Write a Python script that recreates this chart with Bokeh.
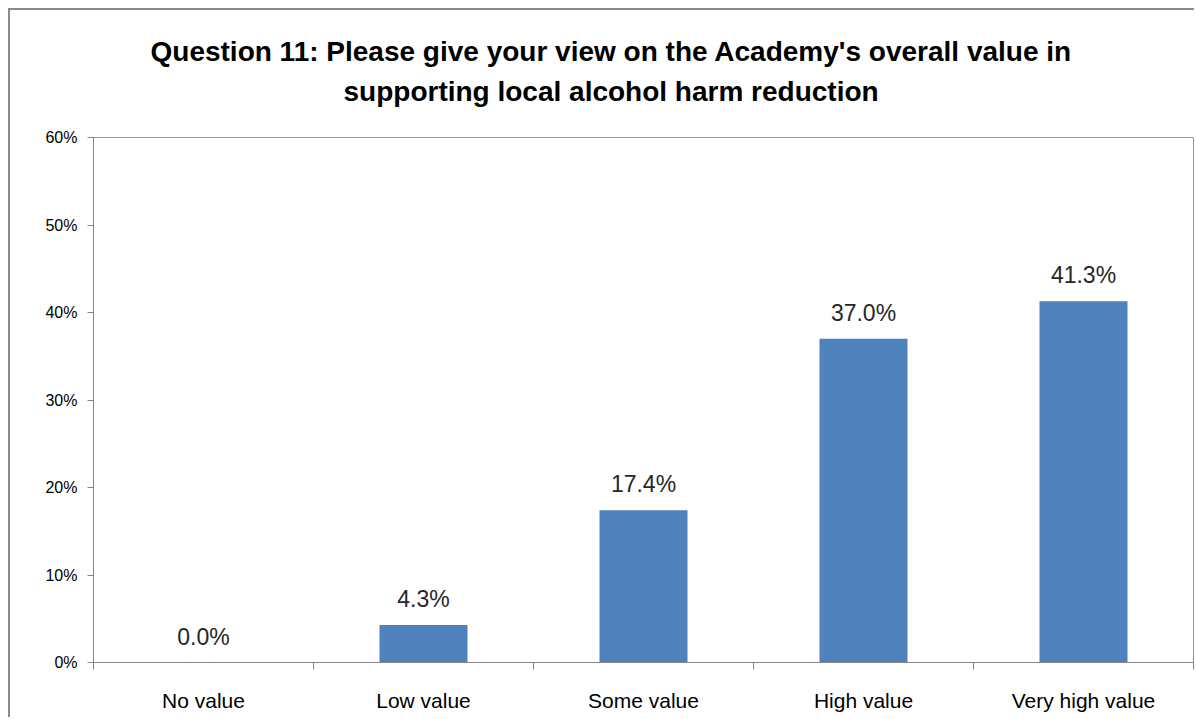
import numpy as np
from bokeh.plotting import figure
from bokeh.models import (ColumnDataSource, FixedTicker, PrintfTickFormatter,
                          Range1d, Title, LabelSet)
from bokeh.core.properties import value
from bokeh.embed import file_html
from bokeh.resources import INLINE

# ---- data ----
categories = ["No value", "Low value", "Some value", "High value", "Very high value"]
values = [0.0, 4.3, 17.4, 37.0, 41.3]
y_ticks = [0, 10, 20, 30, 40, 50, 60]
title_lines = ["Question 11: Please give your view on the Academy's overall value in",
               "supporting local alcohol harm reduction"]

xpos = [i + 0.5 for i in range(len(categories))]
labels = ["%.1f%%" % v for v in values]
src = ColumnDataSource(dict(x=xpos, top=values, label=labels))

FONT = "Liberation Sans"

p = figure(width=1186, height=709, output_backend="svg", toolbar_location=None,
           x_range=Range1d(0, len(categories)), y_range=Range1d(0, 60),
           min_border_left=83, min_border_right=3, min_border_bottom=57,
           min_border_top=127, title=None,
           styles={"margin-left": "8px", "margin-top": "8px",
                   "border-left": "2px solid #8a8a8a", "border-top": "2px solid #8a8a8a"})

p.vbar(x="x", top="top", width=0.4, source=src, color="#4F81BD", line_color=None)

p.add_layout(LabelSet(x="x", y="top", text="label", source=src,
                      text_align="center", text_baseline="alphabetic", y_offset=18,
                      text_font=value(FONT), text_font_size="23px", text_color="#262626"))

# titles (second line added first -> closest to plot)
t2 = Title(text=title_lines[1], align="left", text_font=FONT, text_font_size="28px",
           text_font_style="bold", text_color="#000000", standoff=62, offset=250)
t1 = Title(text=title_lines[0], align="left", text_font=FONT, text_font_size="28px",
           text_font_style="bold", text_color="#000000", standoff=-48, offset=57)
p.add_layout(t2, "above")
p.add_layout(t1, "above")

p.xgrid.visible = False
p.ygrid.visible = False

p.outline_line_color = "#6f9bd1"
p.outline_line_width = 1

# y axis
yax = p.yaxis[0]
yax.ticker = FixedTicker(ticks=y_ticks)
yax.formatter = PrintfTickFormatter(format="%d%%")
yax.axis_line_color = "#868686"
yax.major_tick_line_color = "#868686"
yax.major_tick_in = 0
yax.major_tick_out = 6
yax.minor_tick_line_color = None
yax.major_label_text_font = FONT
yax.major_label_text_font_size = "16px"
yax.major_label_text_color = "#000000"
yax.major_label_standoff = 10

# x axis
xax = p.xaxis[0]
xax.ticker = FixedTicker(ticks=xpos, minor_ticks=list(range(len(categories) + 1)))
xax.major_label_overrides = {x: c for x, c in zip(xpos, categories)}
xax.axis_line_color = "#868686"
xax.major_tick_line_color = None
xax.minor_tick_line_color = "#868686"
xax.minor_tick_in = 0
xax.minor_tick_out = 7
xax.major_label_text_font = FONT
xax.major_label_text_font_size = "21px"
xax.major_label_text_color = "#000000"
xax.major_label_standoff = 19

open("out.html", "w").write(file_html(p, INLINE))
